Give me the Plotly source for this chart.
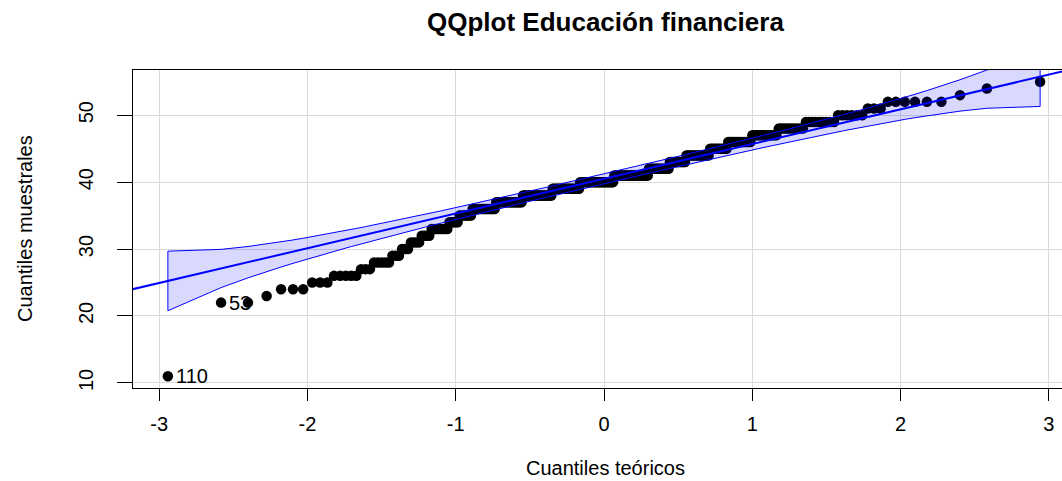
import numpy as np
import plotly.graph_objects as go
from statistics import NormalDist

# ---- data (sample values and how many times each occurs) ----
scores = [11, 22, 23, 24, 25, 26, 27, 28, 29, 30, 31, 32, 33, 34, 35, 36, 37, 38,
          39, 40, 41, 42, 43, 44, 45, 46, 47, 48, 49, 50, 51, 52, 53, 54, 55]
counts = [1, 2, 1, 3, 3, 5, 3, 5, 3, 3, 4, 4, 8, 5, 7, 14, 18, 22,
          22, 28, 28, 16, 12, 16, 11, 13, 12, 10, 9, 6, 3, 6, 1, 1, 1]
id_labels = ["110", "53"]   # identified observations
id_ranks = [1, 2]           # their rank in the sorted sample
x_ticks = [-3, -2, -1, 0, 1, 2, 3]
y_ticks = [10, 20, 30, 40, 50]
title_text = "QQplot Educación financiera"
xlab = "Cuantiles teóricos"
ylab = "Cuantiles muestrales"

# ---- QQ computations (as car::qqPlot does) ----
sample = np.sort(np.repeat(scores, counts)).astype(float)
n = len(sample)
nd = NormalDist()
P = (np.arange(1, n + 1) - 0.5) / n
z = np.array([nd.inv_cdf(p) for p in P])
q1, q3 = np.quantile(sample, [0.25, 0.75])
z1, z3 = nd.inv_cdf(0.25), nd.inv_cdf(0.75)
slope = (q3 - q1) / (z3 - z1)
intercept = q1 - slope * z1
dens = np.array([nd.pdf(v) for v in z])
se = slope / dens * np.sqrt(P * (1 - P) / n)
zz = nd.inv_cdf(0.975)
fit = intercept + slope * z
upper = fit + zz * se
lower = fit - zz * se

# axis ranges, R style (4% extension); right part of the frame is cut off in the picture
xmin = z.min() - 0.04 * (z.max() - z.min())
xmax_full = z.max() + 0.04 * (z.max() - z.min())
xmax = xmin + (xmax_full - xmin) * 929 / 942
ymin = sample.min() - 0.04 * (sample.max() - sample.min())
ymax = sample.max() + 0.04 * (sample.max() - sample.min())

FONT = "Liberation Sans, Arial, sans-serif"
BLUE = "#0000FF"

fig = go.Figure()
fig.add_trace(go.Scatter(x=z, y=sample, mode="markers",
                         marker=dict(color="black", size=10.5), hoverinfo="x+y"))
lx = np.array([xmin - 0.5, xmax_full + 0.5])
fig.add_trace(go.Scatter(x=lx, y=intercept + slope * lx, mode="lines",
                         line=dict(color=BLUE, width=2)))
fig.add_trace(go.Scatter(x=np.concatenate([z, z[::-1], z[:1]]),
                         y=np.concatenate([upper, lower[::-1], upper[:1]]),
                         mode="lines", fill="toself",
                         fillcolor="rgba(0,0,255,0.15)",
                         line=dict(color=BLUE, width=1)))

for lab, r in zip(id_labels, id_ranks):
    fig.add_annotation(x=z[r - 1], y=sample[r - 1], text=lab, showarrow=False,
                       xanchor="left", yanchor="middle", xshift=6,
                       font=dict(family=FONT, size=20, color="black"))

fig.add_annotation(text="<b>" + title_text + "</b>", xref="paper", yref="paper",
                   x=(605 - 133) / 929, y=(388 - 22) / 318, xanchor="center",
                   yanchor="middle", showarrow=False,
                   font=dict(family=FONT, size=26, color="black"))
fig.add_annotation(text=xlab, xref="paper", yref="paper",
                   x=(605 - 133) / 929, y=(388 - 468) / 318, xanchor="center",
                   yanchor="middle", showarrow=False,
                   font=dict(family=FONT, size=20, color="black"))
fig.add_annotation(text=ylab, xref="paper", yref="paper", textangle=-90,
                   x=(25 - 133) / 929, y=0.5, xanchor="center",
                   yanchor="middle", showarrow=False,
                   font=dict(family=FONT, size=20, color="black"))

fig.update_layout(
    width=1062, height=481,
    margin=dict(l=133, r=0, t=70, b=93),
    paper_bgcolor="white", plot_bgcolor="white",
    showlegend=False,
    font=dict(family=FONT, size=20, color="black"),
)
fig.update_xaxes(range=[xmin, xmax], tickvals=x_ticks, ticktext=[str(t) for t in x_ticks],
                 showgrid=True, gridcolor="#d9d9d9", gridwidth=1, zeroline=False,
                 showline=True, linecolor="black", linewidth=1, mirror=True,
                 ticks="outside", ticklen=12, tickcolor="black",
                 ticklabelstandoff=6,
                 tickfont=dict(family=FONT, size=20, color="black"))
fig.update_yaxes(range=[ymin, ymax], tickvals=y_ticks, ticktext=[str(t) for t in y_ticks],
                 showgrid=True, gridcolor="#d9d9d9", gridwidth=1, zeroline=False,
                 showline=True, linecolor="black", linewidth=1,
                 ticks="outside", ticklen=15, tickcolor="black", tickangle=-90,
                 ticklabelstandoff=16,
                 tickfont=dict(family=FONT, size=20, color="black"))

fig.write_html("out.html", config={"displayModeBar": False},
               post_script="document.body.style.margin='0';document.body.style.overflow='hidden';")
